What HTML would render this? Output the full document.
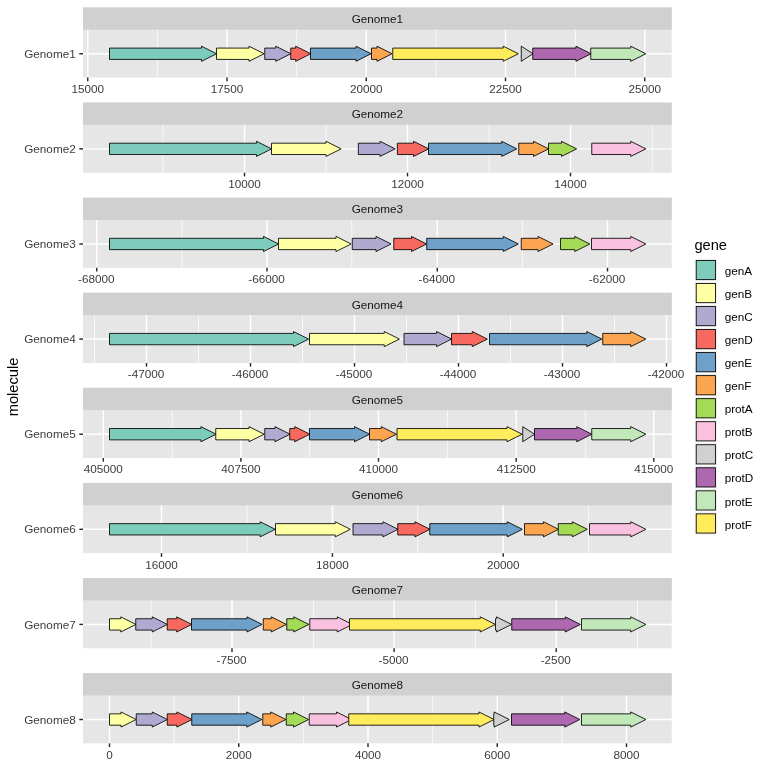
<!DOCTYPE html>
<html><head><meta charset="utf-8"><title>gggenes</title>
<style>
html,body{margin:0;padding:0;background:#fff;}
body{width:768px;height:768px;overflow:hidden;}
svg{display:block;will-change:transform;}
text{font-family:"Liberation Sans",sans-serif;}
.ax{font-size:11.73px;fill:#3C3C3C;}
.st{font-size:11.73px;fill:#141414;}
.lg{font-size:11.73px;fill:#000;}
.ti{font-size:14.67px;fill:#000;}
</style></head><body>
<svg width="768" height="768" viewBox="0 0 768 768">
<rect x="0" y="0" width="768" height="768" fill="#FFFFFF"/>
<g>
<rect x="83" y="8.33" width="588.75" height="69.27" fill="#E6E6E6"/>
<rect x="83" y="7.33" width="588.75" height="22.37" fill="#D0D0D0"/>
<line x1="157.45" x2="157.45" y1="29.7" y2="77.6" stroke="#fff" stroke-width="0.71"/>
<line x1="296.6" x2="296.6" y1="29.7" y2="77.6" stroke="#fff" stroke-width="0.71"/>
<line x1="436.2" x2="436.2" y1="29.7" y2="77.6" stroke="#fff" stroke-width="0.71"/>
<line x1="575.5" x2="575.5" y1="29.7" y2="77.6" stroke="#fff" stroke-width="0.71"/>
<line x1="87.75" x2="87.75" y1="29.7" y2="77.6" stroke="#fff" stroke-width="1.43"/>
<line x1="227" x2="227" y1="29.7" y2="77.6" stroke="#fff" stroke-width="1.43"/>
<line x1="366.25" x2="366.25" y1="29.7" y2="77.6" stroke="#fff" stroke-width="1.43"/>
<line x1="505.5" x2="505.5" y1="29.7" y2="77.6" stroke="#fff" stroke-width="1.43"/>
<line x1="644.75" x2="644.75" y1="29.7" y2="77.6" stroke="#fff" stroke-width="1.43"/>
<line x1="83" x2="671.75" y1="53.75" y2="53.75" stroke="#fff" stroke-width="1.43"/>
<polygon points="109.5,48.08 201.5,48.08 201.5,46.19 216.62,53.75 201.5,61.31 201.5,59.42 109.5,59.42" fill="#7DCBBB" stroke="#000" stroke-width="0.85" stroke-linejoin="miter" stroke-miterlimit="10"/>
<polygon points="216.5,48.08 249,48.08 249,46.19 264.12,53.75 249,61.31 249,59.42 216.5,59.42" fill="#FFFFA4" stroke="#000" stroke-width="0.85" stroke-linejoin="miter" stroke-miterlimit="10"/>
<polygon points="264.75,48.08 275.75,48.08 275.75,46.19 290.87,53.75 275.75,61.31 275.75,59.42 264.75,59.42" fill="#B0AAD1" stroke="#000" stroke-width="0.85" stroke-linejoin="miter" stroke-miterlimit="10"/>
<polygon points="290.75,48.08 295.68,48.08 295.68,46.19 310.8,53.75 295.68,61.31 295.68,59.42 290.75,59.42" fill="#F7695F" stroke="#000" stroke-width="0.85" stroke-linejoin="miter" stroke-miterlimit="10"/>
<polygon points="310.5,48.08 356,48.08 356,46.19 371.12,53.75 356,61.31 356,59.42 310.5,59.42" fill="#6EA1C9" stroke="#000" stroke-width="0.85" stroke-linejoin="miter" stroke-miterlimit="10"/>
<polygon points="371.5,48.08 377,48.08 377,46.19 392.12,53.75 377,61.31 377,59.42 371.5,59.42" fill="#FBA550" stroke="#000" stroke-width="0.85" stroke-linejoin="miter" stroke-miterlimit="10"/>
<polygon points="392.75,48.08 503.25,48.08 503.25,46.19 518.37,53.75 503.25,61.31 503.25,59.42 392.75,59.42" fill="#FFEC5D" stroke="#000" stroke-width="0.85" stroke-linejoin="miter" stroke-miterlimit="10"/>
<polygon points="521.25,48.08 521.25,48.08 521.25,46.19 533.05,53.75 521.25,61.31 521.25,59.42 521.25,59.42" fill="#D0D0D0" stroke="#000" stroke-width="0.85" stroke-linejoin="miter" stroke-miterlimit="10"/>
<polygon points="532.75,48.08 575.93,48.08 575.93,46.19 591.05,53.75 575.93,61.31 575.93,59.42 532.75,59.42" fill="#AD68AF" stroke="#000" stroke-width="0.85" stroke-linejoin="miter" stroke-miterlimit="10"/>
<polygon points="590.75,48.08 630.75,48.08 630.75,46.19 645.87,53.75 630.75,61.31 630.75,59.42 590.75,59.42" fill="#C2E8B9" stroke="#000" stroke-width="0.85" stroke-linejoin="miter" stroke-miterlimit="10"/>
<text class="st" x="377.38" y="23" text-anchor="middle">Genome1</text>
<line x1="87.75" x2="87.75" y1="77.6" y2="81.27" stroke="#262626" stroke-width="1.43"/>
<text class="ax" x="87.75" y="93" text-anchor="middle">15000</text>
<line x1="227" x2="227" y1="77.6" y2="81.27" stroke="#262626" stroke-width="1.43"/>
<text class="ax" x="227" y="93" text-anchor="middle">17500</text>
<line x1="366.25" x2="366.25" y1="77.6" y2="81.27" stroke="#262626" stroke-width="1.43"/>
<text class="ax" x="366.25" y="93" text-anchor="middle">20000</text>
<line x1="505.5" x2="505.5" y1="77.6" y2="81.27" stroke="#262626" stroke-width="1.43"/>
<text class="ax" x="505.5" y="93" text-anchor="middle">22500</text>
<line x1="644.75" x2="644.75" y1="77.6" y2="81.27" stroke="#262626" stroke-width="1.43"/>
<text class="ax" x="644.75" y="93" text-anchor="middle">25000</text>
<line x1="79.33" x2="83" y1="53.75" y2="53.75" stroke="#262626" stroke-width="1.43"/>
<text class="ax" x="75.7" y="58" text-anchor="end">Genome1</text>
</g>
<g>
<rect x="83" y="103.44" width="588.75" height="69.27" fill="#E6E6E6"/>
<rect x="83" y="102.44" width="588.75" height="22.37" fill="#D0D0D0"/>
<line x1="162.9" x2="162.9" y1="124.81" y2="172.71" stroke="#fff" stroke-width="0.71"/>
<line x1="326" x2="326" y1="124.81" y2="172.71" stroke="#fff" stroke-width="0.71"/>
<line x1="489.1" x2="489.1" y1="124.81" y2="172.71" stroke="#fff" stroke-width="0.71"/>
<line x1="652.3" x2="652.3" y1="124.81" y2="172.71" stroke="#fff" stroke-width="0.71"/>
<line x1="244.5" x2="244.5" y1="124.81" y2="172.71" stroke="#fff" stroke-width="1.43"/>
<line x1="407.5" x2="407.5" y1="124.81" y2="172.71" stroke="#fff" stroke-width="1.43"/>
<line x1="570.5" x2="570.5" y1="124.81" y2="172.71" stroke="#fff" stroke-width="1.43"/>
<line x1="83" x2="671.75" y1="148.86" y2="148.86" stroke="#fff" stroke-width="1.43"/>
<polygon points="109.5,143.19 256.5,143.19 256.5,141.3 271.62,148.86 256.5,156.42 256.5,154.53 109.5,154.53" fill="#7DCBBB" stroke="#000" stroke-width="0.85" stroke-linejoin="miter" stroke-miterlimit="10"/>
<polygon points="271.5,143.19 326,143.19 326,141.3 341.12,148.86 326,156.42 326,154.53 271.5,154.53" fill="#FFFFA4" stroke="#000" stroke-width="0.85" stroke-linejoin="miter" stroke-miterlimit="10"/>
<polygon points="358.35,143.19 380.05,143.19 380.05,141.3 395.17,148.86 380.05,156.42 380.05,154.53 358.35,154.53" fill="#B0AAD1" stroke="#000" stroke-width="0.85" stroke-linejoin="miter" stroke-miterlimit="10"/>
<polygon points="397.35,143.19 413.55,143.19 413.55,141.3 428.67,148.86 413.55,156.42 413.55,154.53 397.35,154.53" fill="#F7695F" stroke="#000" stroke-width="0.85" stroke-linejoin="miter" stroke-miterlimit="10"/>
<polygon points="428.5,143.19 501.75,143.19 501.75,141.3 516.87,148.86 501.75,156.42 501.75,154.53 428.5,154.53" fill="#6EA1C9" stroke="#000" stroke-width="0.85" stroke-linejoin="miter" stroke-miterlimit="10"/>
<polygon points="518.75,143.19 533.5,143.19 533.5,141.3 548.62,148.86 533.5,156.42 533.5,154.53 518.75,154.53" fill="#FBA550" stroke="#000" stroke-width="0.85" stroke-linejoin="miter" stroke-miterlimit="10"/>
<polygon points="548.5,143.19 561.5,143.19 561.5,141.3 576.62,148.86 561.5,156.42 561.5,154.53 548.5,154.53" fill="#A5DA56" stroke="#000" stroke-width="0.85" stroke-linejoin="miter" stroke-miterlimit="10"/>
<polygon points="591.75,143.19 630.75,143.19 630.75,141.3 645.87,148.86 630.75,156.42 630.75,154.53 591.75,154.53" fill="#FAC0DF" stroke="#000" stroke-width="0.85" stroke-linejoin="miter" stroke-miterlimit="10"/>
<text class="st" x="377.38" y="118" text-anchor="middle">Genome2</text>
<line x1="244.5" x2="244.5" y1="172.71" y2="176.38" stroke="#262626" stroke-width="1.43"/>
<text class="ax" x="244.5" y="188" text-anchor="middle">10000</text>
<line x1="407.5" x2="407.5" y1="172.71" y2="176.38" stroke="#262626" stroke-width="1.43"/>
<text class="ax" x="407.5" y="188" text-anchor="middle">12000</text>
<line x1="570.5" x2="570.5" y1="172.71" y2="176.38" stroke="#262626" stroke-width="1.43"/>
<text class="ax" x="570.5" y="188" text-anchor="middle">14000</text>
<line x1="79.33" x2="83" y1="148.86" y2="148.86" stroke="#262626" stroke-width="1.43"/>
<text class="ax" x="75.7" y="153" text-anchor="end">Genome2</text>
</g>
<g>
<rect x="83" y="198.55" width="588.75" height="69.27" fill="#E6E6E6"/>
<rect x="83" y="197.55" width="588.75" height="22.37" fill="#D0D0D0"/>
<line x1="181.8" x2="181.8" y1="219.92" y2="267.82" stroke="#fff" stroke-width="0.71"/>
<line x1="351.8" x2="351.8" y1="219.92" y2="267.82" stroke="#fff" stroke-width="0.71"/>
<line x1="522.4" x2="522.4" y1="219.92" y2="267.82" stroke="#fff" stroke-width="0.71"/>
<line x1="96.75" x2="96.75" y1="219.92" y2="267.82" stroke="#fff" stroke-width="1.43"/>
<line x1="267" x2="267" y1="219.92" y2="267.82" stroke="#fff" stroke-width="1.43"/>
<line x1="437.25" x2="437.25" y1="219.92" y2="267.82" stroke="#fff" stroke-width="1.43"/>
<line x1="607.5" x2="607.5" y1="219.92" y2="267.82" stroke="#fff" stroke-width="1.43"/>
<line x1="83" x2="671.75" y1="243.97" y2="243.97" stroke="#fff" stroke-width="1.43"/>
<polygon points="109.5,238.3 263.5,238.3 263.5,236.41 278.62,243.97 263.5,251.53 263.5,249.64 109.5,249.64" fill="#7DCBBB" stroke="#000" stroke-width="0.85" stroke-linejoin="miter" stroke-miterlimit="10"/>
<polygon points="278.5,238.3 336,238.3 336,236.41 351.12,243.97 336,251.53 336,249.64 278.5,249.64" fill="#FFFFA4" stroke="#000" stroke-width="0.85" stroke-linejoin="miter" stroke-miterlimit="10"/>
<polygon points="352.25,238.3 376,238.3 376,236.41 391.12,243.97 376,251.53 376,249.64 352.25,249.64" fill="#B0AAD1" stroke="#000" stroke-width="0.85" stroke-linejoin="miter" stroke-miterlimit="10"/>
<polygon points="393.75,238.3 411.5,238.3 411.5,236.41 426.62,243.97 411.5,251.53 411.5,249.64 393.75,249.64" fill="#F7695F" stroke="#000" stroke-width="0.85" stroke-linejoin="miter" stroke-miterlimit="10"/>
<polygon points="426.75,238.3 503.25,238.3 503.25,236.41 518.37,243.97 503.25,251.53 503.25,249.64 426.75,249.64" fill="#6EA1C9" stroke="#000" stroke-width="0.85" stroke-linejoin="miter" stroke-miterlimit="10"/>
<polygon points="521.25,238.3 538,238.3 538,236.41 553.12,243.97 538,251.53 538,249.64 521.25,249.64" fill="#FBA550" stroke="#000" stroke-width="0.85" stroke-linejoin="miter" stroke-miterlimit="10"/>
<polygon points="560.5,238.3 574.75,238.3 574.75,236.41 589.87,243.97 574.75,251.53 574.75,249.64 560.5,249.64" fill="#A5DA56" stroke="#000" stroke-width="0.85" stroke-linejoin="miter" stroke-miterlimit="10"/>
<polygon points="591.5,238.3 630.75,238.3 630.75,236.41 645.87,243.97 630.75,251.53 630.75,249.64 591.5,249.64" fill="#FAC0DF" stroke="#000" stroke-width="0.85" stroke-linejoin="miter" stroke-miterlimit="10"/>
<text class="st" x="377.38" y="213" text-anchor="middle">Genome3</text>
<line x1="96.75" x2="96.75" y1="267.82" y2="271.49" stroke="#262626" stroke-width="1.43"/>
<text class="ax" x="96.25" y="283" text-anchor="middle">-68000</text>
<line x1="267" x2="267" y1="267.82" y2="271.49" stroke="#262626" stroke-width="1.43"/>
<text class="ax" x="266.5" y="283" text-anchor="middle">-66000</text>
<line x1="437.25" x2="437.25" y1="267.82" y2="271.49" stroke="#262626" stroke-width="1.43"/>
<text class="ax" x="436.75" y="283" text-anchor="middle">-64000</text>
<line x1="607.5" x2="607.5" y1="267.82" y2="271.49" stroke="#262626" stroke-width="1.43"/>
<text class="ax" x="607" y="283" text-anchor="middle">-62000</text>
<line x1="79.33" x2="83" y1="243.97" y2="243.97" stroke="#262626" stroke-width="1.43"/>
<text class="ax" x="75.7" y="248" text-anchor="end">Genome3</text>
</g>
<g>
<rect x="83" y="293.66" width="588.75" height="69.27" fill="#E6E6E6"/>
<rect x="83" y="292.66" width="588.75" height="22.37" fill="#D0D0D0"/>
<line x1="94.5" x2="94.5" y1="315.03" y2="362.93" stroke="#fff" stroke-width="0.71"/>
<line x1="198.5" x2="198.5" y1="315.03" y2="362.93" stroke="#fff" stroke-width="0.71"/>
<line x1="302.5" x2="302.5" y1="315.03" y2="362.93" stroke="#fff" stroke-width="0.71"/>
<line x1="406.5" x2="406.5" y1="315.03" y2="362.93" stroke="#fff" stroke-width="0.71"/>
<line x1="510.5" x2="510.5" y1="315.03" y2="362.93" stroke="#fff" stroke-width="0.71"/>
<line x1="614.5" x2="614.5" y1="315.03" y2="362.93" stroke="#fff" stroke-width="0.71"/>
<line x1="146.5" x2="146.5" y1="315.03" y2="362.93" stroke="#fff" stroke-width="1.43"/>
<line x1="250.5" x2="250.5" y1="315.03" y2="362.93" stroke="#fff" stroke-width="1.43"/>
<line x1="354.5" x2="354.5" y1="315.03" y2="362.93" stroke="#fff" stroke-width="1.43"/>
<line x1="458.5" x2="458.5" y1="315.03" y2="362.93" stroke="#fff" stroke-width="1.43"/>
<line x1="562.5" x2="562.5" y1="315.03" y2="362.93" stroke="#fff" stroke-width="1.43"/>
<line x1="666.5" x2="666.5" y1="315.03" y2="362.93" stroke="#fff" stroke-width="1.43"/>
<line x1="83" x2="671.75" y1="339.08" y2="339.08" stroke="#fff" stroke-width="1.43"/>
<polygon points="109.5,333.41 293.5,333.41 293.5,331.52 308.62,339.08 293.5,346.64 293.5,344.75 109.5,344.75" fill="#7DCBBB" stroke="#000" stroke-width="0.85" stroke-linejoin="miter" stroke-miterlimit="10"/>
<polygon points="309.5,333.41 384.25,333.41 384.25,331.52 399.37,339.08 384.25,346.64 384.25,344.75 309.5,344.75" fill="#FFFFA4" stroke="#000" stroke-width="0.85" stroke-linejoin="miter" stroke-miterlimit="10"/>
<polygon points="404,333.41 436.5,333.41 436.5,331.52 451.62,339.08 436.5,346.64 436.5,344.75 404,344.75" fill="#B0AAD1" stroke="#000" stroke-width="0.85" stroke-linejoin="miter" stroke-miterlimit="10"/>
<polygon points="451.5,333.41 472.25,333.41 472.25,331.52 487.37,339.08 472.25,346.64 472.25,344.75 451.5,344.75" fill="#F7695F" stroke="#000" stroke-width="0.85" stroke-linejoin="miter" stroke-miterlimit="10"/>
<polygon points="489.5,333.41 586.75,333.41 586.75,331.52 601.87,339.08 586.75,346.64 586.75,344.75 489.5,344.75" fill="#6EA1C9" stroke="#000" stroke-width="0.85" stroke-linejoin="miter" stroke-miterlimit="10"/>
<polygon points="602.75,333.41 630.75,333.41 630.75,331.52 645.87,339.08 630.75,346.64 630.75,344.75 602.75,344.75" fill="#FBA550" stroke="#000" stroke-width="0.85" stroke-linejoin="miter" stroke-miterlimit="10"/>
<text class="st" x="377.38" y="309" text-anchor="middle">Genome4</text>
<line x1="146.5" x2="146.5" y1="362.93" y2="366.6" stroke="#262626" stroke-width="1.43"/>
<text class="ax" x="146" y="378" text-anchor="middle">-47000</text>
<line x1="250.5" x2="250.5" y1="362.93" y2="366.6" stroke="#262626" stroke-width="1.43"/>
<text class="ax" x="250" y="378" text-anchor="middle">-46000</text>
<line x1="354.5" x2="354.5" y1="362.93" y2="366.6" stroke="#262626" stroke-width="1.43"/>
<text class="ax" x="354" y="378" text-anchor="middle">-45000</text>
<line x1="458.5" x2="458.5" y1="362.93" y2="366.6" stroke="#262626" stroke-width="1.43"/>
<text class="ax" x="458" y="378" text-anchor="middle">-44000</text>
<line x1="562.5" x2="562.5" y1="362.93" y2="366.6" stroke="#262626" stroke-width="1.43"/>
<text class="ax" x="562" y="378" text-anchor="middle">-43000</text>
<line x1="666.5" x2="666.5" y1="362.93" y2="366.6" stroke="#262626" stroke-width="1.43"/>
<text class="ax" x="666" y="378" text-anchor="middle">-42000</text>
<line x1="79.33" x2="83" y1="339.08" y2="339.08" stroke="#262626" stroke-width="1.43"/>
<text class="ax" x="75.7" y="343" text-anchor="end">Genome4</text>
</g>
<g>
<rect x="83" y="388.77" width="588.75" height="69.27" fill="#E6E6E6"/>
<rect x="83" y="387.77" width="588.75" height="22.37" fill="#D0D0D0"/>
<line x1="172.25" x2="172.25" y1="410.14" y2="458.04" stroke="#fff" stroke-width="0.71"/>
<line x1="309.6" x2="309.6" y1="410.14" y2="458.04" stroke="#fff" stroke-width="0.71"/>
<line x1="447.4" x2="447.4" y1="410.14" y2="458.04" stroke="#fff" stroke-width="0.71"/>
<line x1="585.3" x2="585.3" y1="410.14" y2="458.04" stroke="#fff" stroke-width="0.71"/>
<line x1="103.3" x2="103.3" y1="410.14" y2="458.04" stroke="#fff" stroke-width="1.43"/>
<line x1="240.9" x2="240.9" y1="410.14" y2="458.04" stroke="#fff" stroke-width="1.43"/>
<line x1="378.5" x2="378.5" y1="410.14" y2="458.04" stroke="#fff" stroke-width="1.43"/>
<line x1="516.2" x2="516.2" y1="410.14" y2="458.04" stroke="#fff" stroke-width="1.43"/>
<line x1="653.8" x2="653.8" y1="410.14" y2="458.04" stroke="#fff" stroke-width="1.43"/>
<line x1="83" x2="671.75" y1="434.19" y2="434.19" stroke="#fff" stroke-width="1.43"/>
<polygon points="109.5,428.52 200.93,428.52 200.93,426.63 216.05,434.19 200.93,441.75 200.93,439.86 109.5,439.86" fill="#7DCBBB" stroke="#000" stroke-width="0.85" stroke-linejoin="miter" stroke-miterlimit="10"/>
<polygon points="215.75,428.52 249,428.52 249,426.63 264.12,434.19 249,441.75 249,439.86 215.75,439.86" fill="#FFFFA4" stroke="#000" stroke-width="0.85" stroke-linejoin="miter" stroke-miterlimit="10"/>
<polygon points="264.75,428.52 274.93,428.52 274.93,426.63 290.05,434.19 274.93,441.75 274.93,439.86 264.75,439.86" fill="#B0AAD1" stroke="#000" stroke-width="0.85" stroke-linejoin="miter" stroke-miterlimit="10"/>
<polygon points="289.75,428.52 294.68,428.52 294.68,426.63 309.8,434.19 294.68,441.75 294.68,439.86 289.75,439.86" fill="#F7695F" stroke="#000" stroke-width="0.85" stroke-linejoin="miter" stroke-miterlimit="10"/>
<polygon points="309.5,428.52 354.5,428.52 354.5,426.63 369.62,434.19 354.5,441.75 354.5,439.86 309.5,439.86" fill="#6EA1C9" stroke="#000" stroke-width="0.85" stroke-linejoin="miter" stroke-miterlimit="10"/>
<polygon points="369.5,428.52 381.25,428.52 381.25,426.63 396.37,434.19 381.25,441.75 381.25,439.86 369.5,439.86" fill="#FBA550" stroke="#000" stroke-width="0.85" stroke-linejoin="miter" stroke-miterlimit="10"/>
<polygon points="397,428.52 507,428.52 507,426.63 522.12,434.19 507,441.75 507,439.86 397,439.86" fill="#FFEC5D" stroke="#000" stroke-width="0.85" stroke-linejoin="miter" stroke-miterlimit="10"/>
<polygon points="522.75,428.52 522.75,428.52 522.75,426.63 534.55,434.19 522.75,441.75 522.75,439.86 522.75,439.86" fill="#D0D0D0" stroke="#000" stroke-width="0.85" stroke-linejoin="miter" stroke-miterlimit="10"/>
<polygon points="534.5,428.52 576.75,428.52 576.75,426.63 591.87,434.19 576.75,441.75 576.75,439.86 534.5,439.86" fill="#AD68AF" stroke="#000" stroke-width="0.85" stroke-linejoin="miter" stroke-miterlimit="10"/>
<polygon points="591.75,428.52 630.75,428.52 630.75,426.63 645.87,434.19 630.75,441.75 630.75,439.86 591.75,439.86" fill="#C2E8B9" stroke="#000" stroke-width="0.85" stroke-linejoin="miter" stroke-miterlimit="10"/>
<text class="st" x="377.38" y="404" text-anchor="middle">Genome5</text>
<line x1="103.3" x2="103.3" y1="458.04" y2="461.71" stroke="#262626" stroke-width="1.43"/>
<text class="ax" x="103.3" y="473" text-anchor="middle">405000</text>
<line x1="240.9" x2="240.9" y1="458.04" y2="461.71" stroke="#262626" stroke-width="1.43"/>
<text class="ax" x="240.9" y="473" text-anchor="middle">407500</text>
<line x1="378.5" x2="378.5" y1="458.04" y2="461.71" stroke="#262626" stroke-width="1.43"/>
<text class="ax" x="378.5" y="473" text-anchor="middle">410000</text>
<line x1="516.2" x2="516.2" y1="458.04" y2="461.71" stroke="#262626" stroke-width="1.43"/>
<text class="ax" x="516.2" y="473" text-anchor="middle">412500</text>
<line x1="653.8" x2="653.8" y1="458.04" y2="461.71" stroke="#262626" stroke-width="1.43"/>
<text class="ax" x="653.8" y="473" text-anchor="middle">415000</text>
<line x1="79.33" x2="83" y1="434.19" y2="434.19" stroke="#262626" stroke-width="1.43"/>
<text class="ax" x="75.7" y="438" text-anchor="end">Genome5</text>
</g>
<g>
<rect x="83" y="483.88" width="588.75" height="69.27" fill="#E6E6E6"/>
<rect x="83" y="482.88" width="588.75" height="22.37" fill="#D0D0D0"/>
<line x1="247" x2="247" y1="505.25" y2="553.15" stroke="#fff" stroke-width="0.71"/>
<line x1="417.7" x2="417.7" y1="505.25" y2="553.15" stroke="#fff" stroke-width="0.71"/>
<line x1="588.6" x2="588.6" y1="505.25" y2="553.15" stroke="#fff" stroke-width="0.71"/>
<line x1="161.5" x2="161.5" y1="505.25" y2="553.15" stroke="#fff" stroke-width="1.43"/>
<line x1="332.4" x2="332.4" y1="505.25" y2="553.15" stroke="#fff" stroke-width="1.43"/>
<line x1="503.2" x2="503.2" y1="505.25" y2="553.15" stroke="#fff" stroke-width="1.43"/>
<line x1="83" x2="671.75" y1="529.3" y2="529.3" stroke="#fff" stroke-width="1.43"/>
<polygon points="109.5,523.63 260.15,523.63 260.15,521.74 275.27,529.3 260.15,536.86 260.15,534.97 109.5,534.97" fill="#7DCBBB" stroke="#000" stroke-width="0.85" stroke-linejoin="miter" stroke-miterlimit="10"/>
<polygon points="275.5,523.63 335.25,523.63 335.25,521.74 350.37,529.3 335.25,536.86 335.25,534.97 275.5,534.97" fill="#FFFFA4" stroke="#000" stroke-width="0.85" stroke-linejoin="miter" stroke-miterlimit="10"/>
<polygon points="353,523.63 382.93,523.63 382.93,521.74 398.05,529.3 382.93,536.86 382.93,534.97 353,534.97" fill="#B0AAD1" stroke="#000" stroke-width="0.85" stroke-linejoin="miter" stroke-miterlimit="10"/>
<polygon points="397.75,523.63 414.93,523.63 414.93,521.74 430.05,529.3 414.93,536.86 414.93,534.97 397.75,534.97" fill="#F7695F" stroke="#000" stroke-width="0.85" stroke-linejoin="miter" stroke-miterlimit="10"/>
<polygon points="429.75,523.63 507.25,523.63 507.25,521.74 522.37,529.3 507.25,536.86 507.25,534.97 429.75,534.97" fill="#6EA1C9" stroke="#000" stroke-width="0.85" stroke-linejoin="miter" stroke-miterlimit="10"/>
<polygon points="524.5,523.63 543.43,523.63 543.43,521.74 558.55,529.3 543.43,536.86 543.43,534.97 524.5,534.97" fill="#FBA550" stroke="#000" stroke-width="0.85" stroke-linejoin="miter" stroke-miterlimit="10"/>
<polygon points="558.25,523.63 572.25,523.63 572.25,521.74 587.37,529.3 572.25,536.86 572.25,534.97 558.25,534.97" fill="#A5DA56" stroke="#000" stroke-width="0.85" stroke-linejoin="miter" stroke-miterlimit="10"/>
<polygon points="589.5,523.63 630.75,523.63 630.75,521.74 645.87,529.3 630.75,536.86 630.75,534.97 589.5,534.97" fill="#FAC0DF" stroke="#000" stroke-width="0.85" stroke-linejoin="miter" stroke-miterlimit="10"/>
<text class="st" x="377.38" y="499" text-anchor="middle">Genome6</text>
<line x1="161.5" x2="161.5" y1="553.15" y2="556.82" stroke="#262626" stroke-width="1.43"/>
<text class="ax" x="161.5" y="569" text-anchor="middle">16000</text>
<line x1="332.4" x2="332.4" y1="553.15" y2="556.82" stroke="#262626" stroke-width="1.43"/>
<text class="ax" x="332.4" y="569" text-anchor="middle">18000</text>
<line x1="503.2" x2="503.2" y1="553.15" y2="556.82" stroke="#262626" stroke-width="1.43"/>
<text class="ax" x="503.2" y="569" text-anchor="middle">20000</text>
<line x1="79.33" x2="83" y1="529.3" y2="529.3" stroke="#262626" stroke-width="1.43"/>
<text class="ax" x="75.7" y="533" text-anchor="end">Genome6</text>
</g>
<g>
<rect x="83" y="578.99" width="588.75" height="69.27" fill="#E6E6E6"/>
<rect x="83" y="577.99" width="588.75" height="22.37" fill="#D0D0D0"/>
<line x1="151" x2="151" y1="600.36" y2="648.26" stroke="#fff" stroke-width="0.71"/>
<line x1="313.4" x2="313.4" y1="600.36" y2="648.26" stroke="#fff" stroke-width="0.71"/>
<line x1="475.4" x2="475.4" y1="600.36" y2="648.26" stroke="#fff" stroke-width="0.71"/>
<line x1="637.5" x2="637.5" y1="600.36" y2="648.26" stroke="#fff" stroke-width="0.71"/>
<line x1="232" x2="232" y1="600.36" y2="648.26" stroke="#fff" stroke-width="1.43"/>
<line x1="394.1" x2="394.1" y1="600.36" y2="648.26" stroke="#fff" stroke-width="1.43"/>
<line x1="556.2" x2="556.2" y1="600.36" y2="648.26" stroke="#fff" stroke-width="1.43"/>
<line x1="83" x2="671.75" y1="624.41" y2="624.41" stroke="#fff" stroke-width="1.43"/>
<polygon points="109.5,618.74 120.75,618.74 120.75,616.85 135.87,624.41 120.75,631.97 120.75,630.08 109.5,630.08" fill="#FFFFA4" stroke="#000" stroke-width="0.85" stroke-linejoin="miter" stroke-miterlimit="10"/>
<polygon points="135.75,618.74 152.25,618.74 152.25,616.85 167.37,624.41 152.25,631.97 152.25,630.08 135.75,630.08" fill="#B0AAD1" stroke="#000" stroke-width="0.85" stroke-linejoin="miter" stroke-miterlimit="10"/>
<polygon points="167.25,618.74 176.68,618.74 176.68,616.85 191.8,624.41 176.68,631.97 176.68,630.08 167.25,630.08" fill="#F7695F" stroke="#000" stroke-width="0.85" stroke-linejoin="miter" stroke-miterlimit="10"/>
<polygon points="191.5,618.74 247,618.74 247,616.85 262.12,624.41 247,631.97 247,630.08 191.5,630.08" fill="#6EA1C9" stroke="#000" stroke-width="0.85" stroke-linejoin="miter" stroke-miterlimit="10"/>
<polygon points="263.25,618.74 271.25,618.74 271.25,616.85 286.37,624.41 271.25,631.97 271.25,630.08 263.25,630.08" fill="#FBA550" stroke="#000" stroke-width="0.85" stroke-linejoin="miter" stroke-miterlimit="10"/>
<polygon points="286.75,618.74 293.75,618.74 293.75,616.85 308.87,624.41 293.75,631.97 293.75,630.08 286.75,630.08" fill="#A5DA56" stroke="#000" stroke-width="0.85" stroke-linejoin="miter" stroke-miterlimit="10"/>
<polygon points="309.75,618.74 337.25,618.74 337.25,616.85 352.37,624.41 337.25,631.97 337.25,630.08 309.75,630.08" fill="#FAC0DF" stroke="#000" stroke-width="0.85" stroke-linejoin="miter" stroke-miterlimit="10"/>
<polygon points="349.5,618.74 480.25,618.74 480.25,616.85 495.37,624.41 480.25,631.97 480.25,630.08 349.5,630.08" fill="#FFEC5D" stroke="#000" stroke-width="0.85" stroke-linejoin="miter" stroke-miterlimit="10"/>
<polygon points="495.5,618.74 496.43,618.74 496.43,616.85 511.55,624.41 496.43,631.97 496.43,630.08 495.5,630.08" fill="#D0D0D0" stroke="#000" stroke-width="0.85" stroke-linejoin="miter" stroke-miterlimit="10"/>
<polygon points="511.75,618.74 565.25,618.74 565.25,616.85 580.37,624.41 565.25,631.97 565.25,630.08 511.75,630.08" fill="#AD68AF" stroke="#000" stroke-width="0.85" stroke-linejoin="miter" stroke-miterlimit="10"/>
<polygon points="581.5,618.74 630.75,618.74 630.75,616.85 645.87,624.41 630.75,631.97 630.75,630.08 581.5,630.08" fill="#C2E8B9" stroke="#000" stroke-width="0.85" stroke-linejoin="miter" stroke-miterlimit="10"/>
<text class="st" x="377.38" y="594" text-anchor="middle">Genome7</text>
<line x1="232" x2="232" y1="648.26" y2="651.93" stroke="#262626" stroke-width="1.43"/>
<text class="ax" x="231.5" y="664" text-anchor="middle">-7500</text>
<line x1="394.1" x2="394.1" y1="648.26" y2="651.93" stroke="#262626" stroke-width="1.43"/>
<text class="ax" x="393.6" y="664" text-anchor="middle">-5000</text>
<line x1="556.2" x2="556.2" y1="648.26" y2="651.93" stroke="#262626" stroke-width="1.43"/>
<text class="ax" x="555.7" y="664" text-anchor="middle">-2500</text>
<line x1="79.33" x2="83" y1="624.41" y2="624.41" stroke="#262626" stroke-width="1.43"/>
<text class="ax" x="75.7" y="629" text-anchor="end">Genome7</text>
</g>
<g>
<rect x="83" y="674.1" width="588.75" height="69.27" fill="#E6E6E6"/>
<rect x="83" y="673.1" width="588.75" height="22.37" fill="#D0D0D0"/>
<line x1="174.1" x2="174.1" y1="695.47" y2="743.37" stroke="#fff" stroke-width="0.71"/>
<line x1="303.4" x2="303.4" y1="695.47" y2="743.37" stroke="#fff" stroke-width="0.71"/>
<line x1="432.6" x2="432.6" y1="695.47" y2="743.37" stroke="#fff" stroke-width="0.71"/>
<line x1="561.85" x2="561.85" y1="695.47" y2="743.37" stroke="#fff" stroke-width="0.71"/>
<line x1="109.5" x2="109.5" y1="695.47" y2="743.37" stroke="#fff" stroke-width="1.43"/>
<line x1="238.75" x2="238.75" y1="695.47" y2="743.37" stroke="#fff" stroke-width="1.43"/>
<line x1="368" x2="368" y1="695.47" y2="743.37" stroke="#fff" stroke-width="1.43"/>
<line x1="497.25" x2="497.25" y1="695.47" y2="743.37" stroke="#fff" stroke-width="1.43"/>
<line x1="626.5" x2="626.5" y1="695.47" y2="743.37" stroke="#fff" stroke-width="1.43"/>
<line x1="83" x2="671.75" y1="719.52" y2="719.52" stroke="#fff" stroke-width="1.43"/>
<polygon points="109.5,713.85 121,713.85 121,711.96 136.12,719.52 121,727.08 121,725.19 109.5,725.19" fill="#FFFFA4" stroke="#000" stroke-width="0.85" stroke-linejoin="miter" stroke-miterlimit="10"/>
<polygon points="136.25,713.85 152.25,713.85 152.25,711.96 167.37,719.52 152.25,727.08 152.25,725.19 136.25,725.19" fill="#B0AAD1" stroke="#000" stroke-width="0.85" stroke-linejoin="miter" stroke-miterlimit="10"/>
<polygon points="167.25,713.85 176.93,713.85 176.93,711.96 192.05,719.52 176.93,727.08 176.93,725.19 167.25,725.19" fill="#F7695F" stroke="#000" stroke-width="0.85" stroke-linejoin="miter" stroke-miterlimit="10"/>
<polygon points="191.75,713.85 246.75,713.85 246.75,711.96 261.87,719.52 246.75,727.08 246.75,725.19 191.75,725.19" fill="#6EA1C9" stroke="#000" stroke-width="0.85" stroke-linejoin="miter" stroke-miterlimit="10"/>
<polygon points="262.75,713.85 270.75,713.85 270.75,711.96 285.87,719.52 270.75,727.08 270.75,725.19 262.75,725.19" fill="#FBA550" stroke="#000" stroke-width="0.85" stroke-linejoin="miter" stroke-miterlimit="10"/>
<polygon points="286.25,713.85 293.5,713.85 293.5,711.96 308.62,719.52 293.5,727.08 293.5,725.19 286.25,725.19" fill="#A5DA56" stroke="#000" stroke-width="0.85" stroke-linejoin="miter" stroke-miterlimit="10"/>
<polygon points="309.25,713.85 336.5,713.85 336.5,711.96 351.62,719.52 336.5,727.08 336.5,725.19 309.25,725.19" fill="#FAC0DF" stroke="#000" stroke-width="0.85" stroke-linejoin="miter" stroke-miterlimit="10"/>
<polygon points="348.75,713.85 478.93,713.85 478.93,711.96 494.05,719.52 478.93,727.08 478.93,725.19 348.75,725.19" fill="#FFEC5D" stroke="#000" stroke-width="0.85" stroke-linejoin="miter" stroke-miterlimit="10"/>
<polygon points="493.75,713.85 494.18,713.85 494.18,711.96 509.3,719.52 494.18,727.08 494.18,725.19 493.75,725.19" fill="#D0D0D0" stroke="#000" stroke-width="0.85" stroke-linejoin="miter" stroke-miterlimit="10"/>
<polygon points="511.5,713.85 564.75,713.85 564.75,711.96 579.87,719.52 564.75,727.08 564.75,725.19 511.5,725.19" fill="#AD68AF" stroke="#000" stroke-width="0.85" stroke-linejoin="miter" stroke-miterlimit="10"/>
<polygon points="581.5,713.85 630.75,713.85 630.75,711.96 645.87,719.52 630.75,727.08 630.75,725.19 581.5,725.19" fill="#C2E8B9" stroke="#000" stroke-width="0.85" stroke-linejoin="miter" stroke-miterlimit="10"/>
<text class="st" x="377.38" y="689" text-anchor="middle">Genome8</text>
<line x1="109.5" x2="109.5" y1="743.37" y2="747.04" stroke="#262626" stroke-width="1.43"/>
<text class="ax" x="109.5" y="759" text-anchor="middle">0</text>
<line x1="238.75" x2="238.75" y1="743.37" y2="747.04" stroke="#262626" stroke-width="1.43"/>
<text class="ax" x="238.75" y="759" text-anchor="middle">2000</text>
<line x1="368" x2="368" y1="743.37" y2="747.04" stroke="#262626" stroke-width="1.43"/>
<text class="ax" x="368" y="759" text-anchor="middle">4000</text>
<line x1="497.25" x2="497.25" y1="743.37" y2="747.04" stroke="#262626" stroke-width="1.43"/>
<text class="ax" x="497.25" y="759" text-anchor="middle">6000</text>
<line x1="626.5" x2="626.5" y1="743.37" y2="747.04" stroke="#262626" stroke-width="1.43"/>
<text class="ax" x="626.5" y="759" text-anchor="middle">8000</text>
<line x1="79.33" x2="83" y1="719.52" y2="719.52" stroke="#262626" stroke-width="1.43"/>
<text class="ax" x="75.7" y="724" text-anchor="end">Genome8</text>
</g>
<text class="ti" transform="translate(17.7,387) rotate(-90)" text-anchor="middle">molecule</text>
<text class="ti" x="694.4" y="249.7">gene</text>
<rect x="694.3" y="258.5" width="23.04" height="23.04" fill="#EFEFEF" stroke="#fff" stroke-width="0.6"/>
<rect x="696.22" y="260.42" width="19.2" height="19.2" fill="#7DCBBB" stroke="#000" stroke-width="0.85"/>
<text class="lg" x="724.67" y="275.12">genA</text>
<rect x="694.3" y="281.54" width="23.04" height="23.04" fill="#EFEFEF" stroke="#fff" stroke-width="0.6"/>
<rect x="696.22" y="283.46" width="19.2" height="19.2" fill="#FFFFA4" stroke="#000" stroke-width="0.85"/>
<text class="lg" x="724.67" y="298.16">genB</text>
<rect x="694.3" y="304.58" width="23.04" height="23.04" fill="#EFEFEF" stroke="#fff" stroke-width="0.6"/>
<rect x="696.22" y="306.5" width="19.2" height="19.2" fill="#B0AAD1" stroke="#000" stroke-width="0.85"/>
<text class="lg" x="724.67" y="321.2">genC</text>
<rect x="694.3" y="327.62" width="23.04" height="23.04" fill="#EFEFEF" stroke="#fff" stroke-width="0.6"/>
<rect x="696.22" y="329.54" width="19.2" height="19.2" fill="#F7695F" stroke="#000" stroke-width="0.85"/>
<text class="lg" x="724.67" y="344.24">genD</text>
<rect x="694.3" y="350.66" width="23.04" height="23.04" fill="#EFEFEF" stroke="#fff" stroke-width="0.6"/>
<rect x="696.22" y="352.58" width="19.2" height="19.2" fill="#6EA1C9" stroke="#000" stroke-width="0.85"/>
<text class="lg" x="724.67" y="367.28">genE</text>
<rect x="694.3" y="373.7" width="23.04" height="23.04" fill="#EFEFEF" stroke="#fff" stroke-width="0.6"/>
<rect x="696.22" y="375.62" width="19.2" height="19.2" fill="#FBA550" stroke="#000" stroke-width="0.85"/>
<text class="lg" x="724.67" y="390.32">genF</text>
<rect x="694.3" y="396.74" width="23.04" height="23.04" fill="#EFEFEF" stroke="#fff" stroke-width="0.6"/>
<rect x="696.22" y="398.66" width="19.2" height="19.2" fill="#A5DA56" stroke="#000" stroke-width="0.85"/>
<text class="lg" x="724.67" y="413.36">protA</text>
<rect x="694.3" y="419.78" width="23.04" height="23.04" fill="#EFEFEF" stroke="#fff" stroke-width="0.6"/>
<rect x="696.22" y="421.7" width="19.2" height="19.2" fill="#FAC0DF" stroke="#000" stroke-width="0.85"/>
<text class="lg" x="724.67" y="436.4">protB</text>
<rect x="694.3" y="442.82" width="23.04" height="23.04" fill="#EFEFEF" stroke="#fff" stroke-width="0.6"/>
<rect x="696.22" y="444.74" width="19.2" height="19.2" fill="#D0D0D0" stroke="#000" stroke-width="0.85"/>
<text class="lg" x="724.67" y="459.44">protC</text>
<rect x="694.3" y="465.86" width="23.04" height="23.04" fill="#EFEFEF" stroke="#fff" stroke-width="0.6"/>
<rect x="696.22" y="467.78" width="19.2" height="19.2" fill="#AD68AF" stroke="#000" stroke-width="0.85"/>
<text class="lg" x="724.67" y="482.48">protD</text>
<rect x="694.3" y="488.9" width="23.04" height="23.04" fill="#EFEFEF" stroke="#fff" stroke-width="0.6"/>
<rect x="696.22" y="490.82" width="19.2" height="19.2" fill="#C2E8B9" stroke="#000" stroke-width="0.85"/>
<text class="lg" x="724.67" y="505.52">protE</text>
<rect x="694.3" y="511.94" width="23.04" height="23.04" fill="#EFEFEF" stroke="#fff" stroke-width="0.6"/>
<rect x="696.22" y="513.86" width="19.2" height="19.2" fill="#FFEC5D" stroke="#000" stroke-width="0.85"/>
<text class="lg" x="724.67" y="528.56">protF</text>
</svg>
</body></html>
